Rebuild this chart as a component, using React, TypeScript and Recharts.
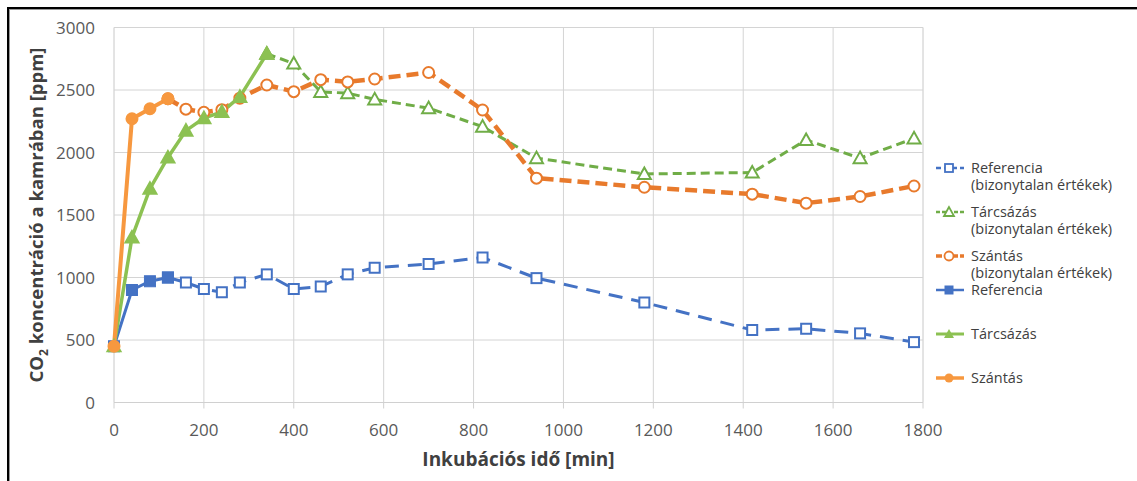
import { LineChart, Line, XAxis, YAxis, CartesianGrid } from "recharts";

const FONT = '"Open Sans", sans-serif';

const BLUE = "#4472c4";
const GREEN_DASH = "#70ad47";
const GREEN_SOLID = "#8cc152";
const ORANGE_DASH = "#e87a2c";
const ORANGE_SOLID = "#f7983f";

// time points (min)
const refSolidTime = [0, 40, 80, 120];
const refSolidValues = [450, 900, 970, 1000];

const tarcsSolidTime = [0, 40, 80, 120, 160, 200, 240, 280, 340];
const tarcsSolidValues = [450, 1320, 1710, 1960, 2175, 2275, 2325, 2445, 2790];

const szantasSolidTime = [0, 40, 80, 120];
const szantasSolidValues = [450, 2270, 2350, 2430];

const refDashedTime = [120, 160, 200, 240, 280, 340, 400, 460, 520, 580, 700, 820, 940, 1180, 1420, 1540, 1660, 1780];
const refDashedValues = [1000, 960, 908, 882, 960, 1025, 908, 928, 1025, 1078, 1108, 1160, 995, 800, 580, 590, 553, 483];

const tarcsDashedTime = [340, 400, 460, 520, 580, 700, 820, 940, 1180, 1420, 1540, 1660, 1780];
const tarcsDashedValues = [2790, 2712, 2485, 2475, 2425, 2355, 2207, 1955, 1828, 1840, 2100, 1955, 2113];

const szantasDashedTime = [120, 160, 200, 240, 280, 340, 400, 460, 520, 580, 700, 820, 940, 1180, 1420, 1540, 1660, 1780];
const szantasDashedValues = [2430, 2347, 2322, 2343, 2435, 2540, 2487, 2583, 2565, 2588, 2640, 2340, 1795, 1722, 1667, 1595, 1648, 1732];

const xTicks = [0, 200, 400, 600, 800, 1000, 1200, 1400, 1600, 1800];
const xMinorTicks = [100, 300, 500, 700, 900, 1100, 1300, 1500, 1700];
const yTicks = [0, 500, 1000, 1500, 2000, 2500, 3000];
const yMinorTicks = [250, 750, 1250, 1750, 2250, 2750];

const toPoints = (t: number[], v: number[]) => t.map((x, i) => ({ t: x, v: v[i] }));

const OpenSquare = (color: string) => (props: any) => {
  const { cx, cy, index } = props;
  if (cx == null || cy == null) return <g key={`os-${index}`} />;
  return <rect key={`os-${index}`} x={cx - 5} y={cy - 5} width={10} height={10} fill="#fff" stroke={color} strokeWidth={2} />;
};

const FilledSquare = (color: string) => (props: any) => {
  const { cx, cy, index } = props;
  if (cx == null || cy == null) return <g key={`fs-${index}`} />;
  return <rect key={`fs-${index}`} x={cx - 5.5} y={cy - 5.5} width={11} height={11} fill={color} stroke={color} strokeWidth={1} />;
};

const Triangle = (color: string, filled: boolean) => (props: any) => {
  const { cx, cy, index } = props;
  if (cx == null || cy == null) return <g key={`tr-${index}`} />;
  const pts = `${cx},${cy - 6.5} ${cx - 6.5},${cy + 5} ${cx + 6.5},${cy + 5}`;
  return <polygon key={`tr-${index}`} points={pts} fill={filled ? color : "#fff"} stroke={color} strokeWidth={2} />;
};

const Circle = (color: string, filled: boolean) => (props: any) => {
  const { cx, cy, index } = props;
  if (cx == null || cy == null) return <g key={`ci-${index}`} />;
  return <circle key={`ci-${index}`} cx={cx} cy={cy} r={5.5} fill={filled ? color : "#fff"} stroke={color} strokeWidth={2} />;
};

type Marker = "openSquare" | "square" | "openTriangle" | "triangle" | "openCircle" | "circle";

const legendItems: { lines: string[]; color: string; dash?: string; width: number; marker: Marker }[] = [
  { lines: ["Referencia", "(bizonytalan értékek)"], color: BLUE, dash: "5 3", width: 2.5, marker: "openSquare" },
  { lines: ["Tárcsázás", "(bizonytalan értékek)"], color: GREEN_DASH, dash: "4 2", width: 2.5, marker: "openTriangle" },
  { lines: ["Szántás", "(bizonytalan értékek)"], color: ORANGE_DASH, dash: "6 2", width: 3.5, marker: "openCircle" },
  { lines: ["Referencia"], color: BLUE, width: 2.5, marker: "square" },
  { lines: ["Tárcsázás"], color: GREEN_SOLID, width: 3, marker: "triangle" },
  { lines: ["Szántás"], color: ORANGE_SOLID, width: 3.5, marker: "circle" },
];
const legendTops = [159, 203, 247, 281, 325, 369];

const LegendIcon = ({ color, dash, width, marker }: { color: string; dash?: string; width: number; marker: Marker }) => {
  const cx = 14;
  const cy = 9;
  let m = null;
  if (marker === "openSquare") m = <rect x={cx - 4} y={cy - 4} width={8} height={8} fill="#fff" stroke={color} strokeWidth={1.8} />;
  if (marker === "square") m = <rect x={cx - 4.5} y={cy - 4.5} width={9} height={9} fill={color} />;
  if (marker === "openTriangle") m = <polygon points={`${cx},${cy - 5} ${cx - 5},${cy + 4} ${cx + 5},${cy + 4}`} fill="#fff" stroke={color} strokeWidth={1.8} />;
  if (marker === "triangle") m = <polygon points={`${cx},${cy - 5} ${cx - 5},${cy + 4} ${cx + 5},${cy + 4}`} fill={color} />;
  if (marker === "openCircle") m = <circle cx={cx} cy={cy} r={4.5} fill="#fff" stroke={color} strokeWidth={1.8} />;
  if (marker === "circle") m = <circle cx={cx} cy={cy} r={4.5} fill={color} />;
  return (
    <svg width={30} height={18} style={{ display: "block", flexShrink: 0 }}>
      <line x1={1} y1={cy} x2={29} y2={cy} stroke={color} strokeWidth={width} strokeDasharray={dash} />
      {m}
    </svg>
  );
};

const ChartLegend = () => (
  <div style={{ position: "absolute", left: 935, top: 0, fontFamily: FONT, fontSize: 14.5, color: "#404040" }}>
    {legendItems.map((item, i) => (
      <div key={i} style={{ position: "absolute", top: legendTops[i], left: 0, display: "flex", alignItems: "flex-start", whiteSpace: "nowrap" }}>
        <LegendIcon color={item.color} dash={item.dash} width={item.width} marker={item.marker} />
        <div style={{ marginLeft: 6, lineHeight: "17px" }}>
          {item.lines.map((l) => (
            <div key={l}>{l}</div>
          ))}
        </div>
      </div>
    ))}
  </div>
);

const YTitle = (props: any) => {
  const { viewBox } = props;
  const x = 43;
  const y = viewBox.y + viewBox.height / 2;
  return (
    <text x={x} y={y} transform={`rotate(-90, ${x}, ${y})`} textAnchor="middle" fontFamily={FONT} fontSize={18.5} fontWeight={700} fill="#404040">
      CO<tspan fontSize={12} dy={5}>2</tspan>
      <tspan dy={-5}> koncentráció a kamrában [ppm]</tspan>
    </text>
  );
};

const XTitle = (props: any) => {
  const { viewBox } = props;
  const x = viewBox.x + viewBox.width / 2;
  return (
    <text x={x} y={466} textAnchor="middle" fontFamily={FONT} fontSize={19} fontWeight={700} fill="#404040">
      Inkubációs idő [min]
    </text>
  );
};

const tickStyle = { fontFamily: FONT, fontSize: 17, fill: "#595959" };

const App = () => (
  <div style={{ position: "absolute", left: 0, top: 0, width: 1137, height: 481, background: "#fff", overflow: "hidden" }}>
    <div style={{ position: "absolute", left: 7, top: 7, width: 1200, height: 600, borderTop: "2.5px solid #000", borderLeft: "2.5px solid #000", boxShadow: "inset 1px 1px 0 #999" }} />
    <LineChart width={1137} height={481} margin={{ top: 27.5, right: 214, bottom: 48.5, left: 54 }}>
      <XAxis xAxisId="minor" type="number" dataKey="t" domain={[0, 1800]} ticks={xMinorTicks} hide />
      <YAxis yAxisId="minor" type="number" domain={[0, 3000]} ticks={yMinorTicks} hide />
      <CartesianGrid xAxisId="minor" yAxisId="minor" stroke="#e8e8e8" strokeWidth={1} />
      <CartesianGrid stroke="#d4d4d4" strokeWidth={1} />
      <XAxis
        type="number"
        dataKey="t"
        domain={[0, 1800]}
        ticks={xTicks}
        height={30}
        stroke="#d0d0d0"
        tickSize={6}
        tickMargin={15}
        tick={tickStyle}
        label={{ content: XTitle }}
      />
      <YAxis
        type="number"
        domain={[0, 3000]}
        ticks={yTicks}
        width={60}
        axisLine={false}
        tickLine={false}
        tickSize={0}
        tickMargin={19}
        tick={tickStyle}
        label={{ content: YTitle }}
      />
      <Line data={toPoints(refDashedTime, refDashedValues)} dataKey="v" stroke={BLUE} strokeWidth={3} strokeDasharray="14 9" dot={OpenSquare(BLUE)} isAnimationActive={false} />
      <Line data={toPoints(tarcsDashedTime, tarcsDashedValues)} dataKey="v" stroke={GREEN_DASH} strokeWidth={3} strokeDasharray="9 5" dot={Triangle(GREEN_DASH, false)} isAnimationActive={false} />
      <Line data={toPoints(szantasDashedTime, szantasDashedValues)} dataKey="v" stroke={ORANGE_DASH} strokeWidth={4.5} strokeDasharray="12 6" dot={Circle(ORANGE_DASH, false)} isAnimationActive={false} />
      <Line data={toPoints(refSolidTime, refSolidValues)} dataKey="v" stroke={BLUE} strokeWidth={3} dot={FilledSquare(BLUE)} isAnimationActive={false} />
      <Line data={toPoints(tarcsSolidTime, tarcsSolidValues)} dataKey="v" stroke={GREEN_SOLID} strokeWidth={3.5} dot={Triangle(GREEN_SOLID, true)} isAnimationActive={false} />
      <Line data={toPoints(szantasSolidTime, szantasSolidValues)} dataKey="v" stroke={ORANGE_SOLID} strokeWidth={4} dot={Circle(ORANGE_SOLID, true)} isAnimationActive={false} />
    </LineChart>
    <ChartLegend />
  </div>
);

export default App;
